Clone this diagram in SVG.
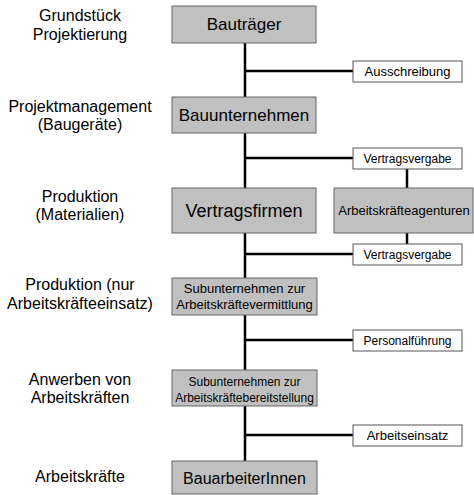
<svg xmlns="http://www.w3.org/2000/svg" width="474" height="495" viewBox="0 0 474 495">
<style>
.bg{fill:#ffffff}
.org rect{fill:#c0c0c0;stroke:#666666;stroke-width:1}
.act rect{fill:#ffffff;stroke:#555555;stroke-width:1}
text{font-family:"Liberation Sans",Arial,sans-serif;fill:#000000;text-anchor:middle}
.lbl{font-size:16px}
.conn line{stroke:#000000;stroke-width:2.5}
</style>
<rect class="bg" x="0" y="0" width="474" height="495"/>
<g id="connectors" class="conn">
<line x1="245" y1="43" x2="245" y2="461"/>
<line x1="245" y1="71" x2="353" y2="71"/>
<line x1="245" y1="158" x2="353" y2="158"/>
<line x1="245" y1="254" x2="353" y2="254"/>
<line x1="245" y1="340" x2="353" y2="340"/>
<line x1="245" y1="435" x2="353" y2="435"/>
<line x1="407" y1="169" x2="407" y2="188"/>
<line x1="407" y1="233" x2="407" y2="244"/>
</g>
<g id="labels">
<text class="lbl" x="80" y="21">Grundstück</text>
<text class="lbl" x="80" y="40">Projektierung</text>
<text class="lbl" x="80" y="112">Projektmanagement</text>
<text class="lbl" x="80" y="130">(Baugeräte)</text>
<text class="lbl" x="80" y="202">Produktion</text>
<text class="lbl" x="80" y="220">(Materialien)</text>
<text class="lbl" x="80" y="290">Produktion (nur</text>
<text class="lbl" x="80" y="309">Arbeitskräfteeinsatz)</text>
<text class="lbl" x="80" y="385">Anwerben von</text>
<text class="lbl" x="80" y="403">Arbeitskräften</text>
<text class="lbl" x="80" y="482">Arbeitskräfte</text>
</g>
<g id="bautraeger" class="org">
<rect x="172" y="6" width="144" height="37"/>
<text x="244" y="30" font-size="17">Bauträger</text>
</g>
<g id="bauunternehmen" class="org">
<rect x="172" y="97" width="144" height="36"/>
<text x="244" y="121" font-size="17">Bauunternehmen</text>
</g>
<g id="vertragsfirmen" class="org">
<rect x="172" y="188" width="144" height="45"/>
<text x="244" y="217" font-size="18">Vertragsfirmen</text>
</g>
<g id="agenturen" class="org">
<rect x="334" y="188" width="139" height="45"/>
<text x="404" y="215" font-size="13">Arbeitskräfteagenturen</text>
</g>
<g id="vermittlung" class="org">
<rect x="172" y="278" width="145" height="37"/>
<text x="244.5" y="293" font-size="13">Subunternehmen zur</text>
<text x="244.5" y="309" font-size="13">Arbeitskräftevermittlung</text>
</g>
<g id="bereitstellung" class="org">
<rect x="172" y="370" width="145" height="36"/>
<text x="244.5" y="386" font-size="12">Subunternehmen zur</text>
<text x="244.5" y="402" font-size="12">Arbeitskräftebereitstellung</text>
</g>
<g id="bauarbeiter" class="org">
<rect x="172" y="461" width="145" height="33"/>
<text x="244.5" y="484" font-size="16">BauarbeiterInnen</text>
</g>
<g id="ausschreibung" class="act">
<rect x="353" y="61" width="109" height="21"/>
<text x="407.5" y="76" font-size="13">Ausschreibung</text>
</g>
<g id="vertragsvergabe1" class="act">
<rect x="353" y="148" width="109" height="21"/>
<text x="407.5" y="163" font-size="12">Vertragsvergabe</text>
</g>
<g id="vertragsvergabe2" class="act">
<rect x="353" y="244" width="109" height="21"/>
<text x="407.5" y="259" font-size="12">Vertragsvergabe</text>
</g>
<g id="personalfuehrung" class="act">
<rect x="353" y="330" width="109" height="21"/>
<text x="407.5" y="345" font-size="12">Personalführung</text>
</g>
<g id="arbeitseinsatz" class="act">
<rect x="353" y="425" width="109" height="21"/>
<text x="407.5" y="440" font-size="13">Arbeitseinsatz</text>
</g>
</svg>
